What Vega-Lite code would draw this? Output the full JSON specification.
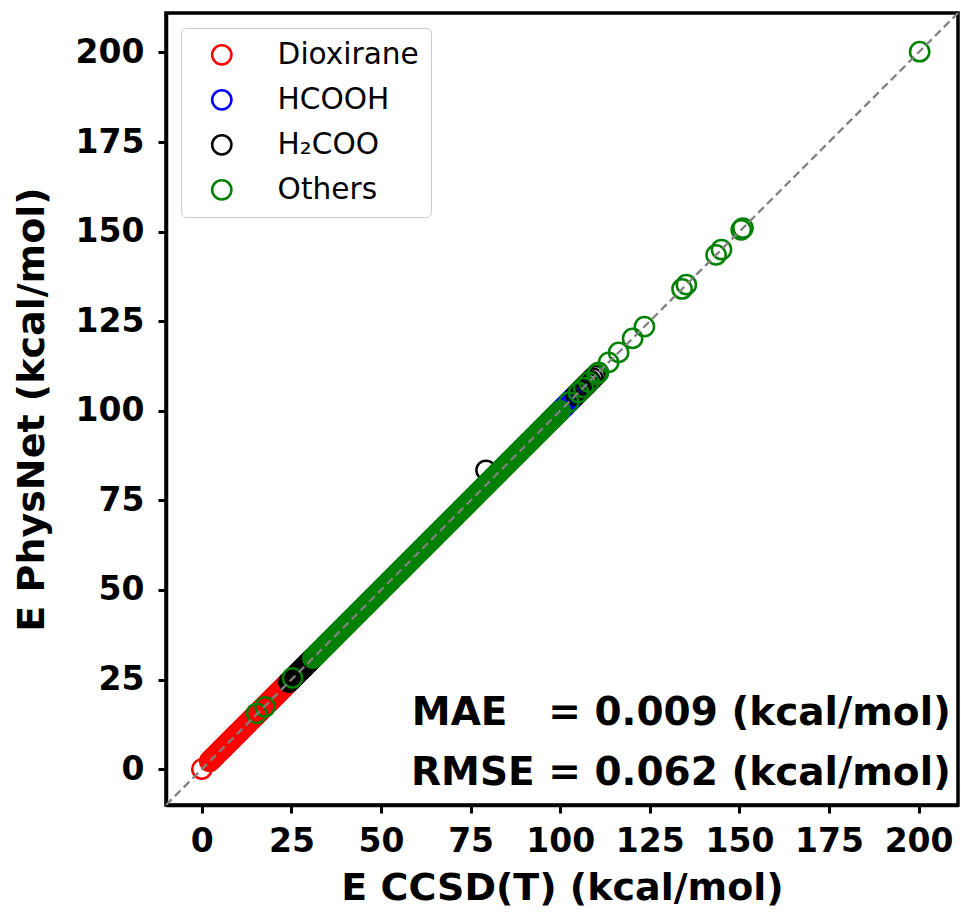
{
  "$schema": "https://vega.github.io/schema/vega-lite/v6.json",
  "width": 792,
  "height": 792,
  "autosize": {"type": "none"},
  "padding": {"left": 166, "top": 13, "right": 3, "bottom": 110},
  "config": {
    "font": "DejaVu Sans",
    "view": {"stroke": "black", "strokeWidth": 3.5},
    "axis": {
      "domainColor": "black", "domainWidth": 3.5, "tickColor": "black", "tickWidth": 3, "tickSize": 8,
      "labelFont": "DejaVu Sans", "labelFontWeight": "bold", "labelFontSize": 33, "labelColor": "black",
      "titleFont": "DejaVu Sans", "titleFontWeight": "bold", "titleFontSize": 38, "titleColor": "black",
      "grid": false
    }
  },
  "layer": [
    {
      "data": {"values": [
        {"s":"Dioxirane","x":0,"y":0},
        {"s":"Dioxirane","x":2.2,"y":2.2},{"s":"Dioxirane","x":2.6,"y":2.6},{"s":"Dioxirane","x":3.1,"y":3.1},{"s":"Dioxirane","x":3.5,"y":3.5},{"s":"Dioxirane","x":4.0,"y":4.0},{"s":"Dioxirane","x":4.4,"y":4.4},{"s":"Dioxirane","x":4.9,"y":4.9},{"s":"Dioxirane","x":5.3,"y":5.3},{"s":"Dioxirane","x":5.8,"y":5.8},{"s":"Dioxirane","x":6.2,"y":6.2},{"s":"Dioxirane","x":6.7,"y":6.7},{"s":"Dioxirane","x":7.1,"y":7.1},{"s":"Dioxirane","x":7.6,"y":7.6},{"s":"Dioxirane","x":8.0,"y":8.0},{"s":"Dioxirane","x":8.5,"y":8.5},{"s":"Dioxirane","x":8.9,"y":8.9},{"s":"Dioxirane","x":9.4,"y":9.4},{"s":"Dioxirane","x":9.8,"y":9.8},{"s":"Dioxirane","x":10.3,"y":10.3},{"s":"Dioxirane","x":10.7,"y":10.7},{"s":"Dioxirane","x":11.2,"y":11.2},{"s":"Dioxirane","x":11.6,"y":11.6},{"s":"Dioxirane","x":12.1,"y":12.1},{"s":"Dioxirane","x":12.5,"y":12.5},{"s":"Dioxirane","x":13.0,"y":13.0},{"s":"Dioxirane","x":13.4,"y":13.4},{"s":"Dioxirane","x":13.9,"y":13.9},{"s":"Dioxirane","x":14.3,"y":14.3},{"s":"Dioxirane","x":14.8,"y":14.8},{"s":"Dioxirane","x":15.2,"y":15.2},{"s":"Dioxirane","x":15.7,"y":15.7},{"s":"Dioxirane","x":16.1,"y":16.1},{"s":"Dioxirane","x":16.6,"y":16.6},{"s":"Dioxirane","x":17.0,"y":17.0},{"s":"Dioxirane","x":17.5,"y":17.5},{"s":"Dioxirane","x":17.9,"y":17.9},{"s":"Dioxirane","x":18.4,"y":18.4},{"s":"Dioxirane","x":18.8,"y":18.8},{"s":"Dioxirane","x":19.3,"y":19.3},{"s":"Dioxirane","x":19.7,"y":19.7},{"s":"Dioxirane","x":20.2,"y":20.2},{"s":"Dioxirane","x":20.6,"y":20.6},{"s":"Dioxirane","x":21.1,"y":21.1},{"s":"Dioxirane","x":21.5,"y":21.5},{"s":"Dioxirane","x":22.0,"y":22.0},{"s":"Dioxirane","x":22.4,"y":22.4},{"s":"Dioxirane","x":22.9,"y":22.9},{"s":"Dioxirane","x":23.3,"y":23.3},{"s":"Dioxirane","x":23.8,"y":23.8},{"s":"Dioxirane","x":24.2,"y":24.2},{"s":"Dioxirane","x":24.7,"y":24.7},{"s":"Dioxirane","x":25.1,"y":25.1},{"s":"Dioxirane","x":25.6,"y":25.6},{"s":"Dioxirane","x":26.0,"y":26.0},
        {"s":"HCOOH","x":97.6,"y":97.6},{"s":"HCOOH","x":98.3,"y":98.3},{"s":"HCOOH","x":99.0,"y":99.0},{"s":"HCOOH","x":99.7,"y":99.7},{"s":"HCOOH","x":100.4,"y":100.4},{"s":"HCOOH","x":101.0,"y":101.0},{"s":"HCOOH","x":101.7,"y":101.7},{"s":"HCOOH","x":102.3,"y":102.3},{"s":"HCOOH","x":103.0,"y":103.0},{"s":"HCOOH","x":103.7,"y":103.7},{"s":"HCOOH","x":106.4,"y":106.4},
        {"s":"H₂COO","x":24.3,"y":24.3},{"s":"H₂COO","x":24.8,"y":24.8},{"s":"H₂COO","x":25.2,"y":25.2},{"s":"H₂COO","x":25.7,"y":25.7},{"s":"H₂COO","x":26.1,"y":26.1},{"s":"H₂COO","x":26.6,"y":26.6},{"s":"H₂COO","x":27.0,"y":27.0},{"s":"H₂COO","x":27.5,"y":27.5},{"s":"H₂COO","x":27.9,"y":27.9},{"s":"H₂COO","x":28.4,"y":28.4},{"s":"H₂COO","x":28.8,"y":28.8},{"s":"H₂COO","x":29.3,"y":29.3},{"s":"H₂COO","x":29.7,"y":29.7},{"s":"H₂COO","x":30.2,"y":30.2},{"s":"H₂COO","x":30.6,"y":30.6},
        {"s":"H₂COO","x":79.3,"y":83.4},
        {"s":"H₂COO","x":104.4,"y":104.4},{"s":"H₂COO","x":105.0,"y":105.0},{"s":"H₂COO","x":105.7,"y":105.7},{"s":"H₂COO","x":106.3,"y":106.3},{"s":"H₂COO","x":107.0,"y":107.0},{"s":"H₂COO","x":107.7,"y":107.7},{"s":"H₂COO","x":108.4,"y":108.4},{"s":"H₂COO","x":109.1,"y":109.1},{"s":"H₂COO","x":109.8,"y":109.8},
        {"s":"Others","x":15.3,"y":15.6},{"s":"Others","x":17.6,"y":17.4},{"s":"Others","x":25.3,"y":25.5},
        {"s":"Others","x":31.0,"y":31.0},{"s":"Others","x":31.5,"y":31.5},{"s":"Others","x":32.0,"y":32.0},{"s":"Others","x":32.5,"y":32.5},{"s":"Others","x":33.0,"y":33.0},{"s":"Others","x":33.5,"y":33.5},{"s":"Others","x":34.0,"y":34.0},{"s":"Others","x":34.5,"y":34.5},{"s":"Others","x":35.0,"y":35.0},{"s":"Others","x":35.5,"y":35.5},{"s":"Others","x":36.0,"y":36.0},{"s":"Others","x":36.5,"y":36.5},{"s":"Others","x":37.0,"y":37.0},{"s":"Others","x":37.5,"y":37.5},{"s":"Others","x":38.0,"y":38.0},{"s":"Others","x":38.5,"y":38.5},{"s":"Others","x":39.0,"y":39.0},{"s":"Others","x":39.5,"y":39.5},{"s":"Others","x":40.0,"y":40.0},{"s":"Others","x":40.5,"y":40.5},{"s":"Others","x":41.0,"y":41.0},{"s":"Others","x":41.5,"y":41.5},{"s":"Others","x":42.0,"y":42.0},{"s":"Others","x":42.5,"y":42.5},{"s":"Others","x":43.0,"y":43.0},{"s":"Others","x":43.5,"y":43.5},{"s":"Others","x":44.0,"y":44.0},{"s":"Others","x":44.5,"y":44.5},{"s":"Others","x":45.0,"y":45.0},{"s":"Others","x":45.5,"y":45.5},{"s":"Others","x":46.0,"y":46.0},{"s":"Others","x":46.5,"y":46.5},{"s":"Others","x":47.0,"y":47.0},{"s":"Others","x":47.5,"y":47.5},{"s":"Others","x":48.0,"y":48.0},{"s":"Others","x":48.5,"y":48.5},{"s":"Others","x":49.0,"y":49.0},{"s":"Others","x":49.5,"y":49.5},{"s":"Others","x":50.0,"y":50.0},{"s":"Others","x":50.5,"y":50.5},{"s":"Others","x":51.0,"y":51.0},{"s":"Others","x":51.5,"y":51.5},{"s":"Others","x":52.0,"y":52.0},{"s":"Others","x":52.5,"y":52.5},{"s":"Others","x":53.0,"y":53.0},{"s":"Others","x":53.5,"y":53.5},{"s":"Others","x":54.0,"y":54.0},{"s":"Others","x":54.5,"y":54.5},{"s":"Others","x":55.0,"y":55.0},{"s":"Others","x":55.5,"y":55.5},{"s":"Others","x":56.0,"y":56.0},{"s":"Others","x":56.5,"y":56.5},{"s":"Others","x":57.0,"y":57.0},{"s":"Others","x":57.5,"y":57.5},{"s":"Others","x":58.0,"y":58.0},{"s":"Others","x":58.5,"y":58.5},{"s":"Others","x":59.0,"y":59.0},{"s":"Others","x":59.5,"y":59.5},{"s":"Others","x":60.0,"y":60.0},{"s":"Others","x":60.5,"y":60.5},{"s":"Others","x":61.0,"y":61.0},{"s":"Others","x":61.5,"y":61.5},{"s":"Others","x":62.0,"y":62.0},{"s":"Others","x":62.5,"y":62.5},{"s":"Others","x":63.0,"y":63.0},{"s":"Others","x":63.5,"y":63.5},{"s":"Others","x":64.0,"y":64.0},{"s":"Others","x":64.5,"y":64.5},{"s":"Others","x":65.0,"y":65.0},{"s":"Others","x":65.5,"y":65.5},{"s":"Others","x":66.0,"y":66.0},{"s":"Others","x":66.5,"y":66.5},{"s":"Others","x":67.0,"y":67.0},{"s":"Others","x":67.5,"y":67.5},{"s":"Others","x":68.0,"y":68.0},{"s":"Others","x":68.5,"y":68.5},{"s":"Others","x":69.0,"y":69.0},{"s":"Others","x":69.5,"y":69.5},{"s":"Others","x":70.0,"y":70.0},{"s":"Others","x":70.5,"y":70.5},{"s":"Others","x":71.0,"y":71.0},{"s":"Others","x":71.5,"y":71.5},{"s":"Others","x":72.0,"y":72.0},{"s":"Others","x":72.5,"y":72.5},{"s":"Others","x":73.0,"y":73.0},{"s":"Others","x":73.5,"y":73.5},{"s":"Others","x":74.0,"y":74.0},{"s":"Others","x":74.5,"y":74.5},{"s":"Others","x":75.0,"y":75.0},{"s":"Others","x":75.5,"y":75.5},{"s":"Others","x":76.0,"y":76.0},{"s":"Others","x":76.5,"y":76.5},{"s":"Others","x":77.0,"y":77.0},{"s":"Others","x":77.5,"y":77.5},{"s":"Others","x":78.0,"y":78.0},{"s":"Others","x":78.5,"y":78.5},{"s":"Others","x":79.0,"y":79.0},{"s":"Others","x":79.5,"y":79.5},{"s":"Others","x":80.0,"y":80.0},{"s":"Others","x":80.5,"y":80.5},{"s":"Others","x":81.0,"y":81.0},{"s":"Others","x":81.5,"y":81.5},{"s":"Others","x":82.0,"y":82.0},{"s":"Others","x":82.5,"y":82.5},{"s":"Others","x":83.0,"y":83.0},{"s":"Others","x":83.5,"y":83.5},{"s":"Others","x":84.0,"y":84.0},{"s":"Others","x":84.5,"y":84.5},{"s":"Others","x":85.0,"y":85.0},{"s":"Others","x":85.5,"y":85.5},{"s":"Others","x":86.0,"y":86.0},{"s":"Others","x":86.5,"y":86.5},{"s":"Others","x":87.0,"y":87.0},{"s":"Others","x":87.5,"y":87.5},{"s":"Others","x":88.0,"y":88.0},{"s":"Others","x":88.5,"y":88.5},{"s":"Others","x":89.0,"y":89.0},{"s":"Others","x":89.5,"y":89.5},{"s":"Others","x":90.0,"y":90.0},{"s":"Others","x":90.5,"y":90.5},{"s":"Others","x":91.0,"y":91.0},{"s":"Others","x":91.5,"y":91.5},{"s":"Others","x":92.0,"y":92.0},{"s":"Others","x":92.5,"y":92.5},{"s":"Others","x":93.0,"y":93.0},{"s":"Others","x":93.5,"y":93.5},{"s":"Others","x":94.0,"y":94.0},{"s":"Others","x":94.5,"y":94.5},{"s":"Others","x":95.0,"y":95.0},{"s":"Others","x":95.5,"y":95.5},{"s":"Others","x":96.0,"y":96.0},{"s":"Others","x":96.5,"y":96.5},{"s":"Others","x":97.0,"y":97.0},{"s":"Others","x":97.5,"y":97.5},{"s":"Others","x":98.0,"y":98.0},{"s":"Others","x":98.5,"y":98.5},{"s":"Others","x":99.0,"y":99.0},{"s":"Others","x":99.5,"y":99.5},{"s":"Others","x":100.0,"y":100.0},
        {"s":"Others","x":102.4,"y":102.4},{"s":"Others","x":105.1,"y":105.1},{"s":"Others","x":106.5,"y":106.5},{"s":"Others","x":108.0,"y":108.0},{"s":"Others","x":110.2,"y":110.2},{"s":"Others","x":110.7,"y":110.7},{"s":"Others","x":113.5,"y":113.5},{"s":"Others","x":116.3,"y":116.3},{"s":"Others","x":120.2,"y":120.2},{"s":"Others","x":123.5,"y":123.5},{"s":"Others","x":134.0,"y":134.0},{"s":"Others","x":135.2,"y":135.2},{"s":"Others","x":143.5,"y":143.5},{"s":"Others","x":145.0,"y":145.0},{"s":"Others","x":150.5,"y":150.5},{"s":"Others","x":151.0,"y":151.0},{"s":"Others","x":200.3,"y":200.2}
      ]},
      "mark": {"type": "point", "filled": false, "size": 370, "strokeWidth": 2.5, "opacity": 1},
      "encoding": {
        "x": {"field": "x", "type": "quantitative",
          "scale": {"domain": [-10, 211], "nice": false, "zero": false},
          "axis": {"values": [0, 25, 50, 75, 100, 125, 150, 175, 200], "labelPadding": 12, "titlePadding": 11, "title": "E CCSD(T) (kcal/mol)"}},
        "y": {"field": "y", "type": "quantitative",
          "scale": {"domain": [-10, 211], "nice": false, "zero": false},
          "axis": {"values": [0, 25, 50, 75, 100, 125, 150, 175, 200], "labelPadding": 14, "titlePadding": 24, "title": "E PhysNet (kcal/mol)"}},
        "color": {"field": "s", "type": "nominal",
          "scale": {"domain": ["Dioxirane", "HCOOH", "H₂COO", "Others"], "range": ["#ff0000", "#0000ff", "#000000", "#008000"]},
          "legend": {"title": null, "orient": "top-left", "offset": 15, "padding": 12,
            "fillColor": "white", "strokeColor": "#cccccc", "cornerRadius": 5,
            "labelFont": "DejaVu Sans", "labelFontSize": 29.6, "labelFontWeight": "normal", "labelColor": "black",
            "symbolType": "circle", "symbolSize": 370, "symbolStrokeWidth": 2.5, "symbolOffset": 14, "labelOffset": 41, "rowPadding": 14}}
      }
    },
    {
      "data": {"values": [{"v": -10}, {"v": 211}]},
      "mark": {"type": "line", "color": "#808080", "strokeWidth": 2.3, "strokeDash": [8, 4.5]},
      "encoding": {"x": {"field": "v", "type": "quantitative"}, "y": {"field": "v", "type": "quantitative"}}
    },
    {
      "data": {"values": [{}]},
      "mark": {"type": "text", "text": "MAE\u00a0\u00a0\u00a0= 0.009 (kcal/mol)", "align": "right", "baseline": "alphabetic", "font": "DejaVu Sans", "fontSize": 39, "fontWeight": "bold", "color": "black"},
      "encoding": {"x": {"datum": 209}, "y": {"datum": 12.3}}
    },
    {
      "data": {"values": [{}]},
      "mark": {"type": "text", "text": "RMSE = 0.062 (kcal/mol)", "align": "right", "baseline": "alphabetic", "font": "DejaVu Sans", "fontSize": 39, "fontWeight": "bold", "color": "black"},
      "encoding": {"x": {"datum": 209}, "y": {"datum": -4.3}}
    }
  ]
}
